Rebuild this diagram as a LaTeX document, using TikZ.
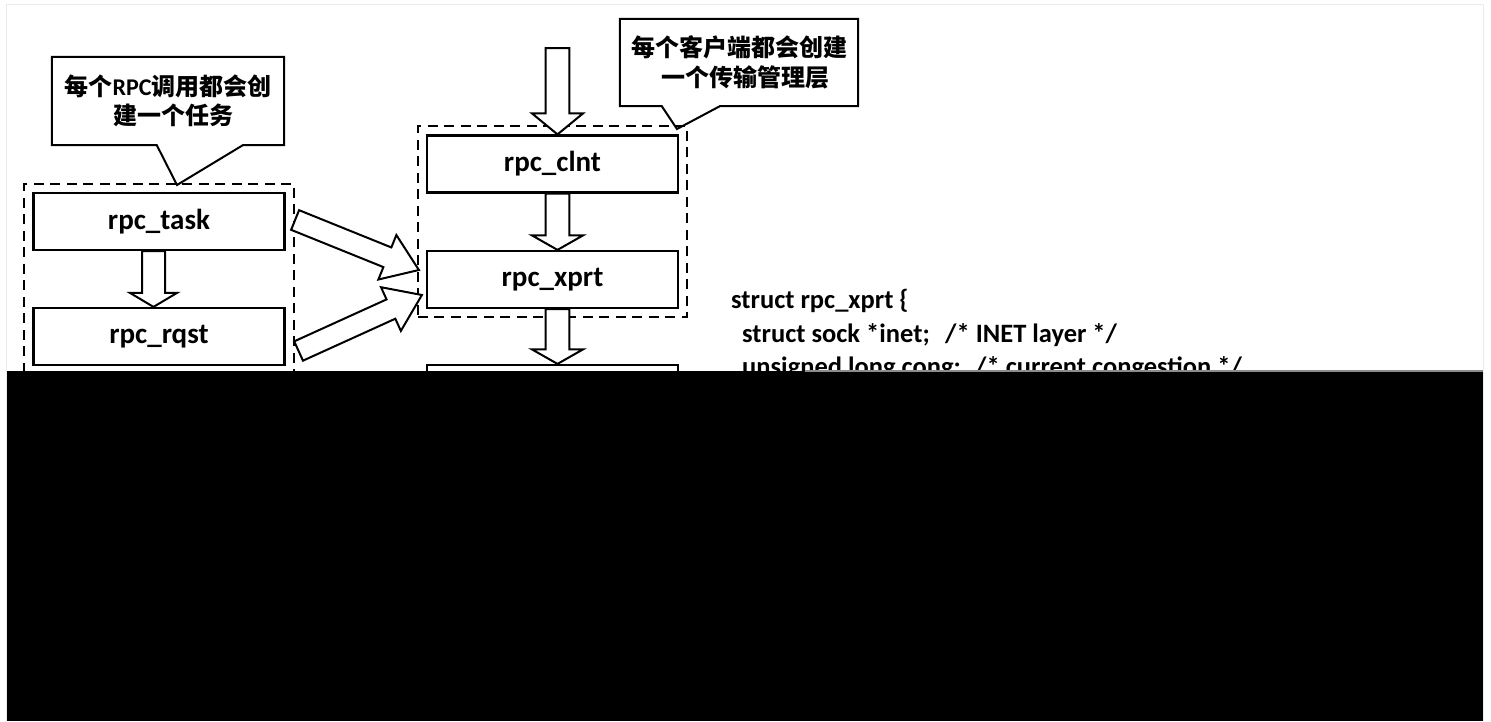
\documentclass[tikz,border=0pt]{standalone}
\usepackage{fontspec}
\setmainfont{Carlito}
\newfontfamily\cjk{Noto Sans CJK SC}
\usetikzlibrary{calc,fit}

\tikzset{
  box/.style={draw, line width=2.2pt, minimum width=251pt, minimum height=57pt,
    inner sep=0pt, font=\fontsize{29}{34}\selectfont\bfseries},
  group/.style={draw, line width=2pt, dash pattern=on 10pt off 6.5pt, inner sep=8pt},
  calltext/.style={align=center, inner sep=0pt,
    font=\fontsize{24}{29.5}\selectfont\cjk\bfseries},
  callout/.style={draw, line width=2pt, line join=miter},
  fat/.style={draw, fill=white, line width=2pt, line join=miter},
  code/.style={anchor=base west, inner sep=0pt, font=\fontsize{26.5}{33}\selectfont\bfseries},
  frame/.style={draw=black!8, line width=1pt},
}

% block arrow from #1 to #2: shaft half-width #3, head half-width #4, head length #5
\newcommand\fatarrow[5]{%
  \draw[fat] let \p1=($(#2)-(#1)$), \n1={atan2(\y1,\x1)}, \n2={veclen(\x1,\y1)} in
    [shift={(#1)}, rotate=\n1]
    (0pt,-#3pt) -- (\n2-#5pt,-#3pt) -- (\n2-#5pt,-#4pt) -- (\n2,0pt)
    -- (\n2-#5pt,#4pt) -- (\n2-#5pt,#3pt) -- (0pt,#3pt) -- cycle;
}

\begin{document}
\begin{tikzpicture}[x=1pt,y=-1pt]
\useasboundingbox (0,0) rectangle (1491,721);
\fill[white] (0,0) rectangle (1491,721);
\draw[frame] (6,721) -- (6,4) -- (1483,4) -- (1483,721);

% structures
\node[box] (task) at (159,221.5) {rpc\_task};
\node[box] (rqst) at (159,336.5) {rpc\_rqst};
\node[box] (clnt) at (552.5,164) {rpc\_clnt};
\node[box] (xprt) at (552.5,279.5) {rpc\_xprt};
\node[box] (sock) at (552.5,393.5) {};

% dashed groupings
\node[group, fit=(task)(rqst)] (reqgrp) {};
\node[group, fit=(clnt)(xprt)] (xprtgrp) {};

% callouts
\node[calltext, minimum width=232pt, minimum height=88pt] (note1) at (168,101)
  {每个{\rmfamily RPC}调用都会创\\\hspace*{11pt}建一个任务};
\coordinate (tip1) at (177,185);
\draw[callout] (note1.north west) -- (note1.north east) -- (note1.south east)
  -- ($(note1.south west)+(191,0)$) -- (tip1) -- ($(note1.south west)+(105,0)$)
  -- (note1.south west) -- cycle;

\node[calltext, minimum width=238pt, minimum height=87pt] (note2) at (739,62.5)
  {每个客户端都会创建\\\hspace*{12pt}一个传输管理层};
\coordinate (tip2) at (677,129);
\draw[callout] (note2.north west) -- (note2.north east) -- (note2.south east)
  -- ($(note2.south west)+(100,0)$) -- (tip2) -- ($(note2.south west)+(42,0)$)
  -- (note2.south west) -- cycle;

% vertical block arrows
\coordinate (in0) at (557.5,48);
\coordinate (c0) at ($(clnt.north)+(5,0)$);
\coordinate (c1) at ($(clnt.south)+(5,0)$);
\coordinate (x0) at ($(xprt.north)+(5,0)$);
\coordinate (x1) at ($(xprt.south)+(5,0)$);
\coordinate (s0) at ($(sock.north)+(5,0)$);
\coordinate (t1) at ($(task.south)+(-5.5,0)$);
\coordinate (r0) at ($(rqst.north)+(-5.5,0)$);
\fatarrow{in0}{c0}{11.8}{25.5}{21}
\fatarrow{c1}{x0}{11.8}{25.5}{14.5}
\fatarrow{x1}{s0}{11.8}{25.5}{14.5}
\fatarrow{t1}{r0}{11.5}{23.5}{14}

% slanted block arrows into rpc_xprt
\coordinate (ta) at ($(task.east)+(9.5,-1.5)$);
\coordinate (xa) at ($(xprt.west)+(-7,-9.5)$);
\coordinate (ra) at ($(rqst.east)+(13,14.5)$);
\coordinate (xb) at ($(xprt.west)+(-4,15.5)$);
\fatarrow{ta}{xa}{10.6}{24}{34}
\fatarrow{ra}{xb}{10.6}{24}{34}

% structure definition
\node[code] (l1) at (731,308) {struct rpc\_xprt \{};
\node[code] (l2a) at (742,342) {struct sock *inet;};
\node[code] (l2b) at (945,342) {/* INET layer */};
\node[code] (l3a) at (742,375) {unsigned long cong;};
\node[code] (l3b) at (975,375) {/* current congestion */};

% masked lower part
\fill[black] (7,371) rectangle (1483,721);
\draw[black!45, line width=1.5pt] (805,371) -- (1483,371);
\end{tikzpicture}
\end{document}
